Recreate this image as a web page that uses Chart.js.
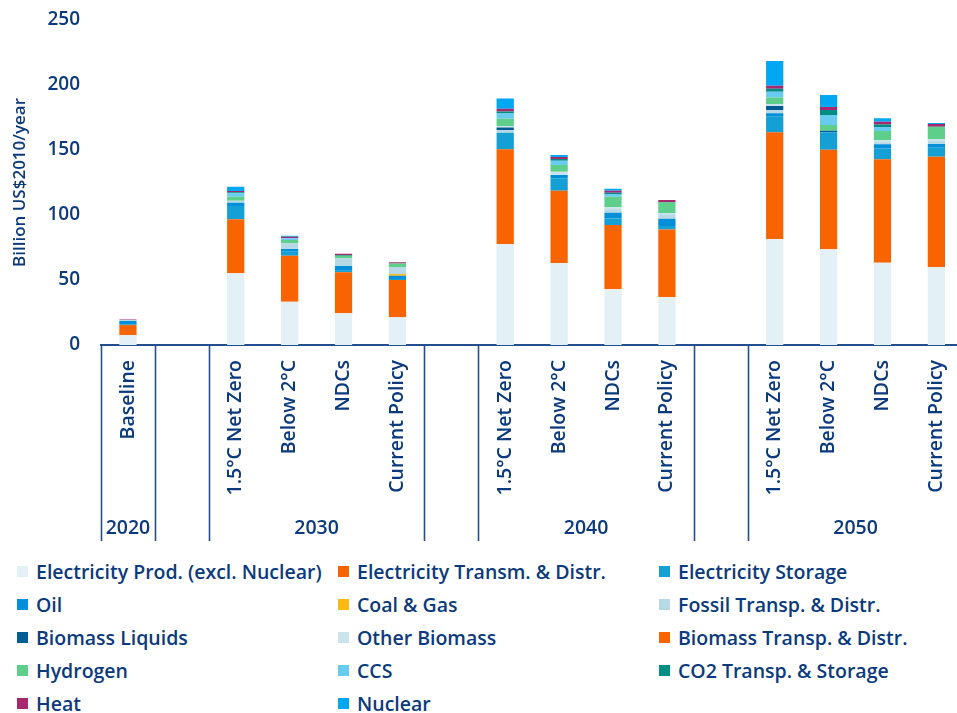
<!DOCTYPE html>
<html>
<head>
<meta charset="utf-8">
<title>Energy investment by scenario</title>
<script src="https://cdn.jsdelivr.net/npm/chart.js@4.4.1/dist/chart.umd.min.js"></script>
<style>
  html, body { margin: 0; padding: 0; background: #fff; overflow: hidden; }
  #wrap { position: relative; width: 957px; height: 713px; overflow: hidden; }
  #chart { position: absolute; left: 0; top: 0; }
  #legend {
    position: absolute; left: 17px; top: 556px;
    display: grid; grid-template-columns: 321px 321px 321px; grid-auto-rows: 33px;
    font-family: "Open Sans", "Noto Sans", sans-serif; font-weight: 600; font-size: 19.5px; color: #0b3a7e;
  }
  #legend .item { display: flex; align-items: center; white-space: nowrap; height: 30px; }
  #legend .box { width: 11px; height: 11px; margin-right: 8px; flex: none; }
</style>
</head>
<body>
<div id="wrap">
  <canvas id="chart" width="975" height="548"></canvas>
  <div id="legend"></div>
</div>
<script>
// Scenario columns; empty strings are spacer slots between years
const categories = ['Baseline', '',
  '1.5°C Net Zero', 'Below 2°C', 'NDCs', 'Current Policy', '',
  '1.5°C Net Zero', 'Below 2°C', 'NDCs', 'Current Policy', '',
  '1.5°C Net Zero', 'Below 2°C', 'NDCs', 'Current Policy'];

// Year groups: label and first/last slot index
const yearGroups = [
  { label: '2020', from: 0, to: 0 },
  { label: '2030', from: 2, to: 5 },
  { label: '2040', from: 7, to: 10 },
  { label: '2050', from: 12, to: 15 }
];

const yTicks = [0, 50, 100, 150, 200, 250];

// Billion US$2010/year, per slot (null = spacer)
const elecProd      = [7.7, null, 55.1, 33.3, 24.4, 21.3, null, 77.7, 63.1, 43.1, 36.9, null, 81.5, 73.6, 63.3, 60.0];
const elecTransm    = [7.7, null, 41.6, 35.4, 31.5, 28.7, null, 72.8, 55.6, 49.2, 52.0, null, 82.1, 76.6, 79.5, 84.9];
const elecStorage   = [0.6, null, 10.2, 3.0, 1.3, 0.8, null, 12.8, 9.5, 5.1, 2.6, null, 12.0, 13.4, 8.5, 6.9];
const oil           = [2.5, null, 2.6, 2.1, 3.6, 2.5, null, 0.0, 2.6, 4.4, 5.6, null, 2.6, 0.0, 3.1, 2.8];
const coalGas       = [0.0, null, 0.0, 0.0, 0.0, 1.3, null, 0.0, 0.0, 0.0, 0.0, null, 0.0, 0.0, 0.0, 0.0];
const fossilTransp  = [0.8, null, 1.5, 4.4, 5.9, 5.4, null, 1.8, 0.0, 2.6, 3.4, null, 2.6, 0.0, 1.5, 2.6];
const bioLiquids    = [0.0, null, 0.0, 0.0, 0.0, 0.0, null, 2.3, 0.0, 0.0, 0.0, null, 3.0, 1.2, 0.0, 0.0];
const otherBiomass  = [0.0, null, 0.0, 0.0, 0.0, 0.0, null, 1.0, 2.5, 1.5, 1.0, null, 1.6, 0.0, 1.6, 1.3];
const bioTransp     = [0.0, null, 0.0, 0.0, 0.0, 0.0, null, 0.0, 0.0, 0.0, 0.0, null, 0.0, 0.0, 0.0, 0.0];
const hydrogen      = [0.0, null, 3.1, 2.6, 2.0, 2.6, null, 5.6, 5.2, 8.2, 8.5, null, 4.9, 4.4, 7.1, 9.4];
const ccs           = [0.0, null, 2.6, 1.3, 0.0, 0.0, null, 4.1, 3.3, 2.1, 0.0, null, 4.6, 7.7, 3.1, 0.0];
const co2Storage    = [0.0, null, 0.8, 0.0, 0.5, 0.0, null, 1.5, 1.3, 1.0, 0.0, null, 2.3, 3.9, 2.0, 0.0];
const heat          = [0.4, null, 1.0, 1.2, 1.0, 1.0, null, 2.1, 1.5, 1.5, 1.5, null, 2.3, 2.3, 2.1, 2.1];
const nuclear       = [0.0, null, 3.3, 0.8, 0.0, 0.0, null, 7.9, 1.6, 1.5, 0.0, null, 19.0, 9.2, 2.6, 0.8];

const navy = '#0b3a7e';
const lineColor = '#234f8e';
const fontFamily = '"Open Sans", "Noto Sans", sans-serif';

const series = [
  ['Electricity Prod. (excl. Nuclear)', elecProd, '#e3f0f5'],
  ['Electricity Transm. & Distr.', elecTransm, '#f86400'],
  ['Electricity Storage', elecStorage, '#14a0d4'],
  ['Oil', oil, '#008fd8'],
  ['Coal & Gas', coalGas, '#fdb913'],
  ['Fossil Transp. & Distr.', fossilTransp, '#b6d9e5'],
  ['Biomass Liquids', bioLiquids, '#005d91'],
  ['Other Biomass', otherBiomass, '#cbe3ec'],
  ['Biomass Transp. & Distr.', bioTransp, '#f86400'],
  ['Hydrogen', hydrogen, '#5ecf8a'],
  ['CCS', ccs, '#68ccf1'],
  ['CO2 Transp. & Storage', co2Storage, '#008e84'],
  ['Heat', heat, '#a6286f'],
  ['Nuclear', nuclear, '#00a8f4']
];

// Year separators and year labels underneath the category axis
const yearAxisPlugin = {
  id: 'yearAxis',
  afterDraw(chart) {
    const x = chart.scales.x;
    const ctx = chart.ctx;
    const slot = (x.right - x.left) / categories.length;
    const top = x.top;
    const bottom = 541;
    const edges = new Set();
    yearGroups.forEach(g => { edges.add(g.from); edges.add(g.to + 1); });
    ctx.save();
    ctx.strokeStyle = lineColor;
    ctx.lineWidth = 1.6;
    edges.forEach(i => {
      const px = Math.round(x.left + i * slot) + 0.5;
      ctx.beginPath();
      ctx.moveTo(px, top);
      ctx.lineTo(px, bottom);
      ctx.stroke();
    });
    ctx.fillStyle = navy;
    ctx.font = '600 19.5px ' + fontFamily;
    ctx.textAlign = 'center';
    ctx.textBaseline = 'middle';
    yearGroups.forEach(g => {
      const cx = (x.getPixelForValue(g.from) + x.getPixelForValue(g.to)) / 2;
      ctx.fillText(g.label, cx, 528);
    });
    ctx.restore();
  }
};

// Three-column legend built from the chart datasets
const htmlLegendPlugin = {
  id: 'htmlLegend',
  afterUpdate(chart) {
    const el = document.getElementById('legend');
    el.innerHTML = '';
    chart.data.datasets.forEach(ds => {
      const item = document.createElement('div');
      item.className = 'item';
      const box = document.createElement('span');
      box.className = 'box';
      box.style.background = ds.backgroundColor;
      const txt = document.createElement('span');
      txt.textContent = ds.label;
      item.appendChild(box);
      item.appendChild(txt);
      el.appendChild(item);
    });
  }
};

new Chart(document.getElementById('chart'), {
  type: 'bar',
  data: {
    labels: categories,
    datasets: series.map(([label, data, color]) => ({
      label, data, backgroundColor: color, borderWidth: 0,
      categoryPercentage: 1, barPercentage: 0.32
    }))
  },
  options: {
    responsive: false,
    animation: false,
    layout: { padding: { top: 20, right: 7, bottom: 7, left: 0 } },
    plugins: {
      legend: { display: false },
      tooltip: { enabled: false }
    },
    scales: {
      x: {
        stacked: true,
        grid: { display: false, drawTicks: false },
        border: { display: true, color: lineColor, width: 2 },
        ticks: {
          autoSkip: false, minRotation: 90, maxRotation: 90, padding: 15,
          color: navy, font: { family: fontFamily, size: 19.5, weight: 600 }
        },
        afterFit(scale) { scale.height = 196; }
      },
      y: {
        stacked: true,
        min: 0, max: 250,
        afterBuildTicks(scale) { scale.ticks = yTicks.map(v => ({ value: v })); },
        grid: { display: false, drawTicks: false },
        border: { display: false },
        ticks: { padding: 21, color: navy, font: { family: fontFamily, size: 19, weight: 600 } },
        title: {
          display: true, text: 'Billion US$2010/year', color: navy,
          font: { family: fontFamily, size: 17, weight: 600 }, padding: { top: 10, bottom: 0 }
        },
        afterFit(scale) {
          scale.width = 101;
          scale.paddingTop = 0;
          scale.paddingBottom = 0;
        }
      }
    }
  },
  plugins: [yearAxisPlugin, htmlLegendPlugin]
});
</script>
</body>
</html>
